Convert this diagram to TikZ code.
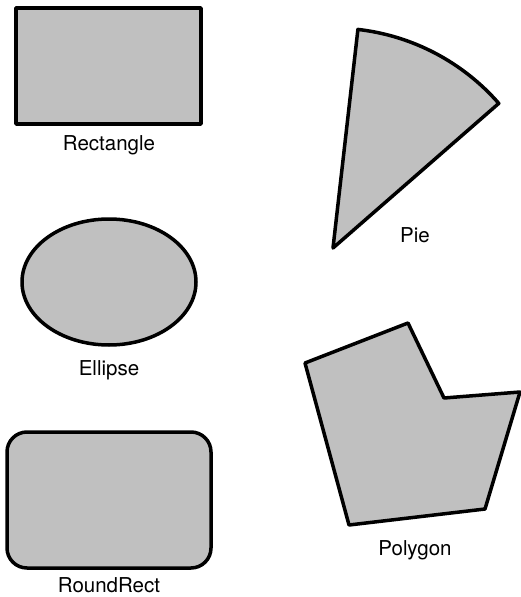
\documentclass[tikz,border=0pt]{standalone}
\usepackage{fontspec}
\setmainfont{TeX Gyre Heros}
\definecolor{shapegray}{RGB}{192,192,192}
\begin{document}
\begin{tikzpicture}[x=1pt,y=-1pt,line join=round,font=\fontsize{20.5}{24}\selectfont]
			\tikzset{figshape/.style={draw=black,fill=shapegray,line width=3.5pt},
				figlabel/.style={anchor=base,inner sep=0pt}}
			\def \picwd{521};
			\def \picht{597};
			\useasboundingbox (0,0) rectangle (\picwd,\picht);
			% left column
			\draw[figshape] (16,8) rectangle (201,124);
			\node[figlabel] (rectlabel) at (109,150) {Rectangle};
			\draw[figshape] (109,282) ellipse [x radius=87, y radius=63];
			\node[figlabel] (ellipselabel) at (109,375) {Ellipse};
			\draw[figshape,rounded corners=20pt] (7,432) rectangle (211,568);
			\node[figlabel] (roundlabel) at (109,592) {RoundRect};
			% right column
			\coordinate (piecenter) at (333,248);
			\draw[figshape] (piecenter) -- +(-83.5:220) arc[start angle=-83.5, end angle=-41.1, radius=220] -- cycle;
			\node[figlabel] (pielabel) at (415,242) {Pie};
			\draw[figshape] (305,363) -- (408,323) -- (444,398) -- (520,392) -- (485,509) -- (349,525) -- cycle;
			\node[figlabel] (polylabel) at (415,555) {Polygon};
		\end{tikzpicture}
\end{document}
